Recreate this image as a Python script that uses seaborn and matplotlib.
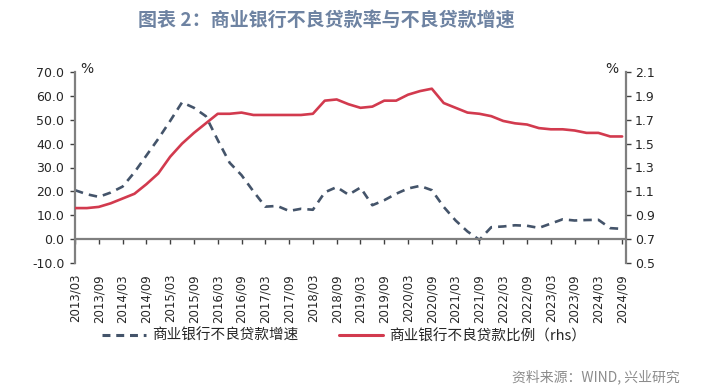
import numpy as np
import pandas as pd
import matplotlib
matplotlib.use("Agg")
import matplotlib.pyplot as plt
import seaborn as sns
from matplotlib.lines import Line2D

# ---- data ----
quarters = [f"{y}/{m:02d}" for y in range(2013, 2025) for m in (3, 6, 9, 12)][:47]

npl_growth = [20.5, 18.8, 17.7, 19.5, 22.0, 28.0, 35.0, 42.0, 49.5, 57.3, 55.0, 51.5,
              41.5, 32.0, 26.8, 20.0, 13.6, 13.9, 11.8, 12.7, 12.3, 19.6, 21.8, 18.6,
              21.6, 14.2, 16.3, 19.0, 21.2, 22.3, 20.5, 13.5, 7.8, 3.2, -0.3, 5.0,
              5.3, 5.8, 5.6, 4.7, 6.5, 8.3, 7.8, 8.0, 8.1, 4.6, 4.3]

npl_ratio = [0.96, 0.96, 0.97, 1.00, 1.04, 1.08, 1.16, 1.25, 1.39, 1.50, 1.59, 1.67,
             1.75, 1.75, 1.76, 1.74, 1.74, 1.74, 1.74, 1.74, 1.75, 1.86, 1.87, 1.83,
             1.80, 1.81, 1.86, 1.86, 1.91, 1.94, 1.96, 1.84, 1.80, 1.76, 1.75, 1.73,
             1.69, 1.67, 1.66, 1.63, 1.62, 1.62, 1.61, 1.59, 1.59, 1.56, 1.56]

label_growth = "商业银行不良贷款增速"
label_ratio = "商业银行不良贷款比例（rhs）"
title = "图表 2：商业银行不良贷款率与不良贷款增速"
source = "资料来源：WIND, 兴业研究"

left_ticks = [-10, 0, 10, 20, 30, 40, 50, 60, 70]
right_ticks = [0.5, 0.7, 0.9, 1.1, 1.3, 1.5, 1.7, 1.9, 2.1]

df = pd.DataFrame({"pos": np.arange(len(quarters)), "quarter": quarters,
                   "growth": npl_growth, "ratio": npl_ratio})

# ---- style ----
sns.set_style("white")
plt.rcParams['font.family'] = ['DejaVu Sans', 'Noto Sans CJK SC']
cjk = ['Noto Sans CJK SC', 'DejaVu Sans']

blue = '#44546A'
red = '#D23A4E'
spine_c = '#7F7F7F'
txt_c = '#262626'

fig = plt.figure(figsize=(7.18, 3.91), dpi=100)
ax = fig.add_axes([75 / 718, 1 - 263 / 391, (625.7 - 75) / 718, (263 - 72) / 391])
ax2 = ax.twinx()

sns.lineplot(data=df, x="pos", y="growth", ax=ax, color=blue, lw=1.9, legend=False)
ax.lines[0].set_dashes((3.2, 2.3))
sns.lineplot(data=df, x="pos", y="ratio", ax=ax2, color=red, lw=1.9, legend=False)

ax.set_xlim(0, 46.3)
ax.set_ylim(-10, 70)
ax2.set_ylim(0.5, 2.1)
ax.set_yticks(left_ticks)
ax.set_yticklabels([f"{v:.1f}" for v in left_ticks])
ax2.set_yticks(right_ticks)
ax2.set_yticklabels([f"{v:.1f}" for v in right_ticks])

xt = list(range(0, len(quarters), 2))
ax.set_xticks(xt)
ax.set_xticklabels([quarters[i] for i in xt])
ax.set_xlabel("")
ax.set_ylabel("")
ax2.set_ylabel("")
ax2.set_xlabel("")

for a in (ax, ax2):
    for s in a.spines.values():
        s.set_visible(False)
ax.spines['left'].set_visible(True)
ax.spines['left'].set_color(spine_c)
ax.spines['left'].set_linewidth(1.6)
ax.spines['bottom'].set_visible(True)
ax.spines['bottom'].set_position(('data', 0))
ax.spines['bottom'].set_color(spine_c)
ax.spines['bottom'].set_linewidth(1.6)
ax2.spines['right'].set_visible(True)
ax2.spines['right'].set_color(spine_c)
ax2.spines['right'].set_linewidth(1.6)

ax.tick_params(axis='y', direction='out', length=3.6, width=1.0, color='#404040',
               labelsize=9, labelcolor=txt_c, pad=4, left=True)
ax2.tick_params(axis='y', direction='out', length=3.6, width=1.0, color='#404040',
                labelsize=9, labelcolor=txt_c, pad=3, right=True)
ax.tick_params(axis='x', direction='out', length=3.6, width=1.0, color='#404040',
               pad=21.5, bottom=True, labelrotation=90, labelsize=8.5, labelcolor=txt_c)
ax2.tick_params(axis='x', bottom=False, top=False, labelbottom=False, labeltop=False)
for lab in ax.get_xticklabels():
    lab.set_rotation(90)
    lab.set_va('top')
    lab.set_ha('center')
ax.grid(False)
ax2.grid(False)

# % markers
fig.text(87 / 718, 1 - 69 / 391, "%", fontsize=10, color=txt_c, ha='center', va='center')
fig.text(612 / 718, 1 - 69 / 391, "%", fontsize=10, color=txt_c, ha='center', va='center')

# title
fig.text(138 / 718, 1 - 20 / 391, title, fontsize=13.7, fontweight='bold', color='#6E83A2',
         ha='left', va='center', family=cjk)

# legend
handles = [Line2D([], [], color=blue, lw=2.2, dashes=(2.6, 1.9)),
           Line2D([], [], color=red, lw=2.2)]
leg = fig.legend(handles, [label_growth, label_ratio], loc='center',
                 bbox_to_anchor=(344 / 718, 1 - 336 / 391), ncol=2, frameon=False,
                 prop={'family': cjk, 'size': 10.5}, handlelength=3.0,
                 handletextpad=0.4, columnspacing=2.8, labelcolor=txt_c)

# source
fig.text(680 / 718, 1 - 377 / 391, source, fontsize=10, color='#8C8C8C',
         ha='right', va='center', family=cjk)

fig.savefig("out.png", dpi=100)
